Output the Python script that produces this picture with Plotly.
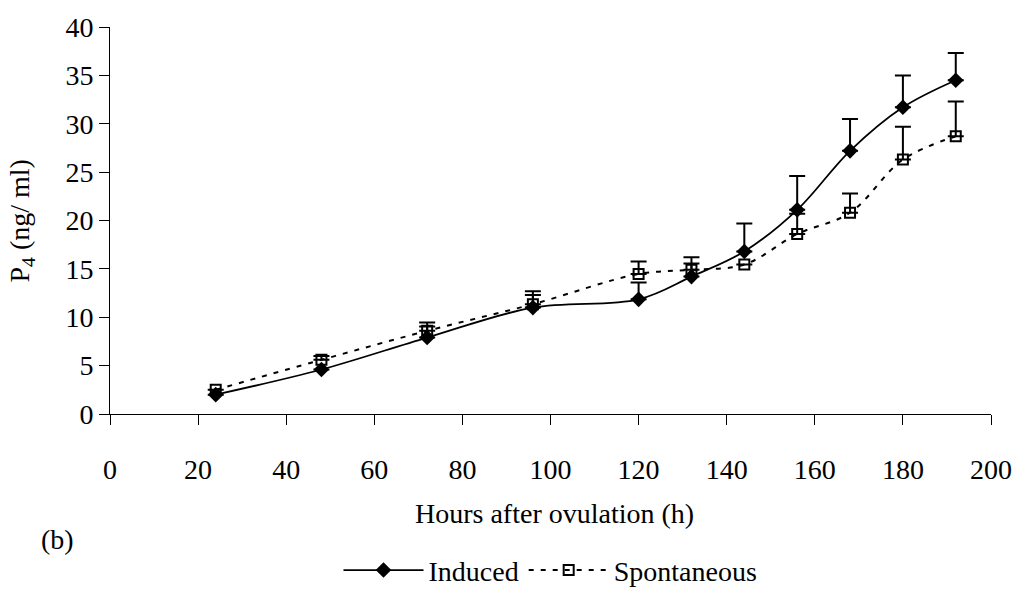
import plotly.graph_objects as go

hours = [24, 48, 72, 96, 120, 132, 144, 156, 168, 180, 192]
induced = [2.0, 4.6, 7.9, 11.0, 11.85, 14.2, 16.8, 21.1, 27.2, 31.7, 34.5]
induced_err = [0.0, 0.0, 1.15, 1.3, 1.75, 1.35, 2.9, 3.5, 3.3, 3.3, 2.8]
spont = [2.5, 5.6, 8.6, 11.35, 14.47, 14.9, 15.45, 18.6, 20.8, 26.3, 28.7]
spont_err = [0.0, 0.4, 0.85, 1.35, 1.3, 1.3, 0.0, 2.1, 2.0, 3.4, 3.6]

FONT = "Times New Roman, Liberation Serif, Tinos, serif"
FS = 28

fig = go.Figure()
fig.add_trace(go.Scatter(
    x=hours, y=induced, name="Induced", mode="lines+markers",
    line=dict(color="black", width=1.8, shape="spline", smoothing=1.0),
    marker=dict(symbol="diamond", size=12, color="black"),
    error_y=dict(type="data", symmetric=False, array=induced_err,
                 arrayminus=[0] * len(hours), color="black", thickness=2, width=8),
))
fig.add_trace(go.Scatter(
    x=hours, y=spont, name="Spontaneous", mode="lines+markers",
    line=dict(color="black", width=2, dash="5px,7px", shape="spline", smoothing=1.0),
    marker=dict(symbol="square-open", size=10, color="black", line=dict(width=2)),
    error_y=dict(type="data", symmetric=False, array=spont_err,
                 arrayminus=[0] * len(hours), color="black", thickness=2, width=8),
))

axis_common = dict(showgrid=False, zeroline=False, showline=True, linecolor="black",
                   linewidth=1, ticks="outside", ticklen=10, tickcolor="black",
                   tickwidth=1, tickfont=dict(family=FONT, size=FS, color="black"))
fig.update_xaxes(range=[0, 200], dtick=20, tick0=0, ticklabelstandoff=20, **axis_common)
fig.update_yaxes(range=[0, 40], dtick=5, tick0=0, **axis_common)

fig.update_layout(
    width=1025, height=607,
    margin=dict(l=110, r=34, t=21, b=180),
    paper_bgcolor="white", plot_bgcolor="white",
    font=dict(family=FONT, size=FS, color="black"),
    showlegend=True,
    legend=dict(orientation="h", x=0.5, xanchor="center", y=-0.404, yanchor="middle",
                font=dict(family=FONT, size=FS, color="black"), itemwidth=80,
                bgcolor="rgba(0,0,0,0)"),
    annotations=[
        dict(text="P<sub>4</sub> (ng/ ml)", xref="paper", yref="paper", x=-0.0999, y=0.5,
             xanchor="center", yanchor="middle", textangle=-90, showarrow=False,
             font=dict(family=FONT, size=FS, color="black")),
        dict(text="Hours after ovulation (h)", xref="paper", yref="paper", x=0.505, y=-0.257,
             xanchor="center", yanchor="middle", showarrow=False,
             font=dict(family=FONT, size=FS, color="black")),
        dict(text="(b)", xref="paper", yref="paper", x=-0.060, y=-0.323,
             xanchor="center", yanchor="middle", showarrow=False,
             font=dict(family=FONT, size=FS, color="black")),
    ],
)

fig.write_html("out.html")
